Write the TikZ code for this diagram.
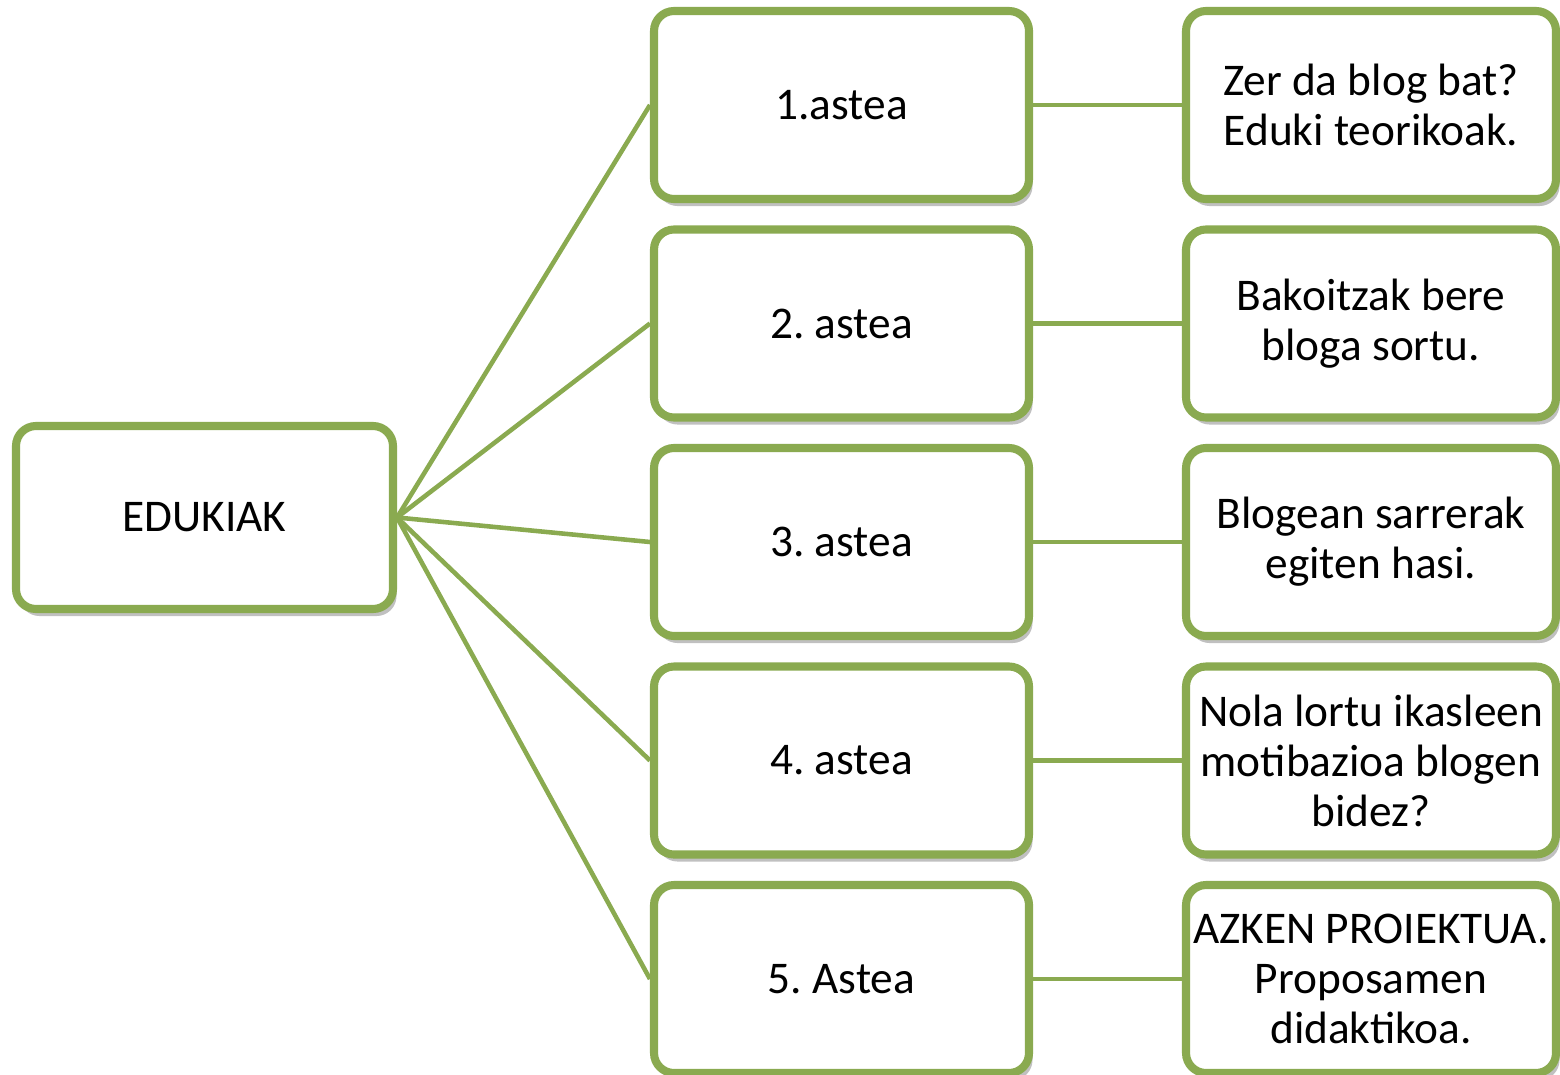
\documentclass[tikz,border=0pt]{standalone}
\usepackage{fontspec}
\setmainfont{Carlito}
\usetikzlibrary{shadows}
\definecolor{boxgreen}{RGB}{138,170,80}
\frenchspacing
\begin{document}
\begin{tikzpicture}[
    box/.style={draw=boxgreen, line width=2.3pt, fill=white, rounded corners=0.2cm,
        inner sep=0pt, align=center, font=\fontsize{12.9}{14.2}\selectfont,
        drop shadow={shadow xshift=1pt, shadow yshift=-2pt, opacity=0.45, fill=black!55}},
    mainbox/.style={box, minimum width=3.77cm, minimum height=1.83cm},
    weekbox/.style={box, minimum width=3.75cm, minimum height=1.88cm},
    topicbox/.style={box, minimum width=3.70cm, minimum height=1.88cm},
    link/.style={draw=boxgreen, line width=1.3pt}
]
    % picture frame
    \useasboundingbox (0,0) rectangle (15.6,-10.74);

    % centre box
    \node[mainbox] (edukiak) at (2.045,-5.175) {EDUKIAK};

    % weeks
    \node[weekbox] (w1) at (8.415,-1.05) {1.astea};
    \node[weekbox] (w2) at (8.415,-3.235) {2. astea};
    \node[weekbox] (w3) at (8.415,-5.42) {3. astea};
    \node[weekbox] (w4) at (8.415,-7.605) {4. astea};
    \node[weekbox] (w5) at (8.415,-9.79) {5. Astea};

    % contents of each week
    \node[topicbox] (t1) at (13.71,-1.05) {Zer da blog bat?\\Eduki teorikoak.};
    \node[topicbox] (t2) at (13.71,-3.235) {Bakoitzak bere\\bloga sortu.};
    \node[topicbox] (t3) at (13.71,-5.42) {Blogean sarrerak\\egiten hasi.};
    \node[topicbox] (t4) at (13.71,-7.605) {Nola lortu ikasleen\\motibazioa blogen\\bidez?};
    \node[topicbox] (t5) at (13.71,-9.79) {AZKEN PROIEKTUA.\\Proposamen\\didaktikoa.};

    % connectors
    \foreach \i in {1,...,5}{
        \draw[link] (edukiak.east) -- (w\i.west);
        \draw[link] (w\i.east) -- (t\i.west);
    }
\end{tikzpicture}
\end{document}
